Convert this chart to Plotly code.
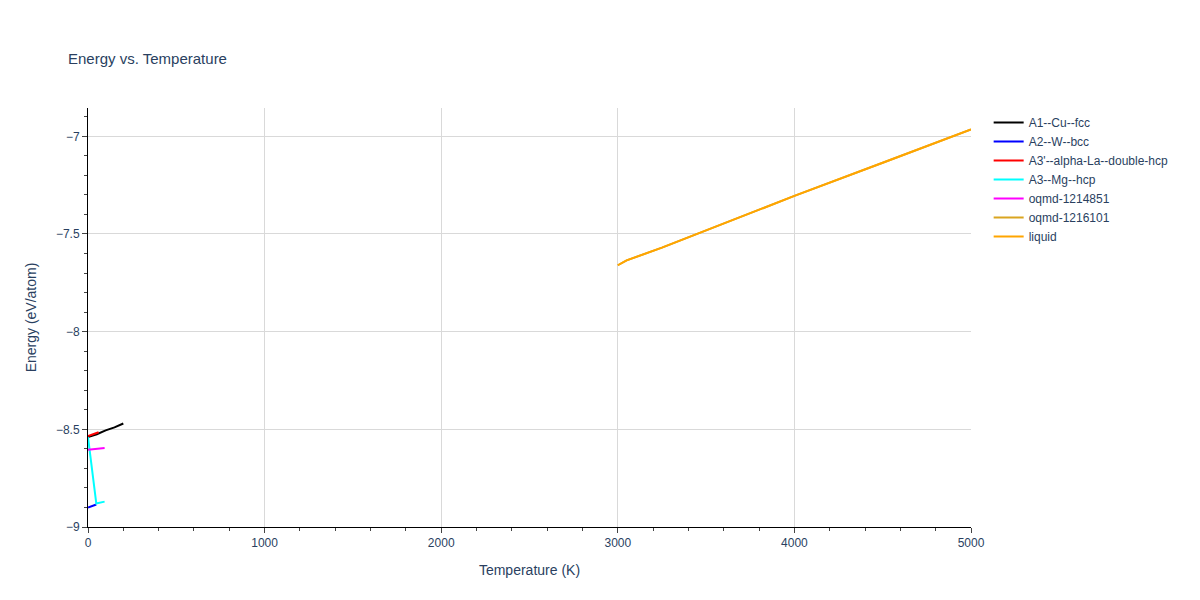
import plotly.graph_objects as go

fcc_t = [0, 50, 100, 150, 200]
fcc_e = [-8.54, -8.525, -8.505, -8.49, -8.47]
bcc_t = [0, 25, 47]
bcc_e = [-8.90, -8.893, -8.885]
dhcp_t = [0, 30, 60]
dhcp_e = [-8.535, -8.525, -8.515]
hcp_t = [0, 47, 94]
hcp_e = [-8.54, -8.88, -8.87]
q1214851_t = [0, 47, 94]
q1214851_e = [-8.605, -8.60, -8.595]
liquid_t = [3000, 3050, 3250, 3550, 3600, 4000, 4500, 5000]
liquid_e = [-7.66, -7.635, -7.57, -7.465, -7.445, -7.305, -7.135, -6.965]

series = [
    ("A1--Cu--fcc", fcc_t, fcc_e, "black"),
    ("A2--W--bcc", bcc_t, bcc_e, "blue"),
    ("A3'--alpha-La--double-hcp", dhcp_t, dhcp_e, "red"),
    ("A3--Mg--hcp", hcp_t, hcp_e, "cyan"),
    ("oqmd-1214851", q1214851_t, q1214851_e, "magenta"),
    ("oqmd-1216101", liquid_t, liquid_e, "goldenrod"),
    ("liquid", liquid_t, liquid_e, "orange"),
]

fig = go.Figure()
for name, t, e, color in series:
    fig.add_trace(go.Scatter(x=t, y=e, mode="lines", name=name, line=dict(color=color, width=2)))

fig.update_layout(
    title=dict(text="Energy vs. Temperature", x=0.05, y=0.925, font=dict(size=15)),
    width=1200, height=600,
    font=dict(family="Arial, Liberation Sans, sans-serif", size=12, color="#2a3f5f"),
    margin=dict(l=80, r=237, t=100, b=81),
    plot_bgcolor="white",
    xaxis=dict(title="Temperature (K)", range=[0, 5000], showgrid=True, gridcolor="#d9d9d9",
               showline=True, linecolor="black", ticks="outside", minor=dict(ticks="outside", nticks=5)),
    yaxis=dict(title="Energy (eV/atom)", range=[-9, -6.855], showgrid=True, gridcolor="#d9d9d9",
               showline=True, linecolor="black", ticks="outside", minor=dict(ticks="outside", nticks=5),
               zeroline=False),
)
fig.write_html("out.html")
